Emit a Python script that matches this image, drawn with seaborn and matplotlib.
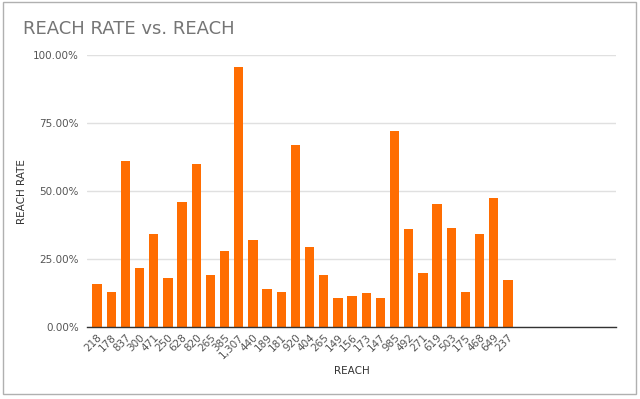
import matplotlib
matplotlib.use("Agg")
import matplotlib.pyplot as plt
import pandas as pd
import seaborn as sns
from matplotlib.ticker import FuncFormatter
from matplotlib.patches import Rectangle

# Data
reach_labels = ["218", "178", "837", "300", "471", "250", "628", "820", "265", "385",
                "1,307", "440", "189", "181", "920", "404", "265", "149", "156", "173",
                "147", "985", "492", "271", "619", "503", "175", "468", "649", "237"]
reach_rate = [0.158, 0.129, 0.610, 0.218, 0.344, 0.182, 0.460, 0.599, 0.193, 0.281,
              0.957, 0.320, 0.140, 0.130, 0.672, 0.294, 0.193, 0.108, 0.113, 0.125,
              0.108, 0.721, 0.361, 0.199, 0.452, 0.366, 0.128, 0.341, 0.474, 0.174]
y_ticks = [0, 0.25, 0.5, 0.75, 1.0]

df = pd.DataFrame({"pos": range(len(reach_rate)), "rate": reach_rate})

sns.set_style("white")
fig = plt.figure(figsize=(6.4, 3.99), dpi=100)
ax = fig.add_axes([0.136, 0.1805, 0.8265, 0.6805])

sns.barplot(data=df, x="pos", y="rate", color="#ff6d01", saturation=1,
            width=0.66, linewidth=0, ax=ax)

ax.set_xlim(-0.71, 36.63)
ax.set_ylim(0, 1)
ax.set_yticks(y_ticks)
ax.yaxis.set_major_formatter(FuncFormatter(lambda v, p: f"{v * 100:.2f}%"))
ax.grid(axis="y", color="#e0e0e0", linewidth=1)
ax.set_axisbelow(True)
for s in ["top", "right", "left"]:
    ax.spines[s].set_visible(False)
ax.spines["bottom"].set_color("#333333")
ax.spines["bottom"].set_linewidth(1)

ax.set_xticks(range(len(reach_labels)))
ax.set_xticklabels(reach_labels, rotation=45, ha="right", rotation_mode="anchor")
ax.tick_params(axis="both", length=0, labelsize=7.5, labelcolor="#555555")
ax.tick_params(axis="x", pad=4)
ax.tick_params(axis="y", pad=6)

ax.set_xlabel("REACH", fontsize=7.5, color="#333333")
ax.xaxis.set_label_coords(0.5, -0.145)
ax.set_ylabel("REACH RATE", fontsize=7.5, color="#333333")
ax.yaxis.set_label_coords(-0.113, 0.5)

fig.text(0.036, 0.927, "REACH RATE vs. REACH", fontsize=13, color="#757575",
         va="center", ha="left")

# chart frame
fig.patches.append(Rectangle((0.005, 0.012), 0.988, 0.982, transform=fig.transFigure,
                             fill=False, edgecolor="#b0b0b0", linewidth=1))

fig.savefig("out.png", dpi=100)
